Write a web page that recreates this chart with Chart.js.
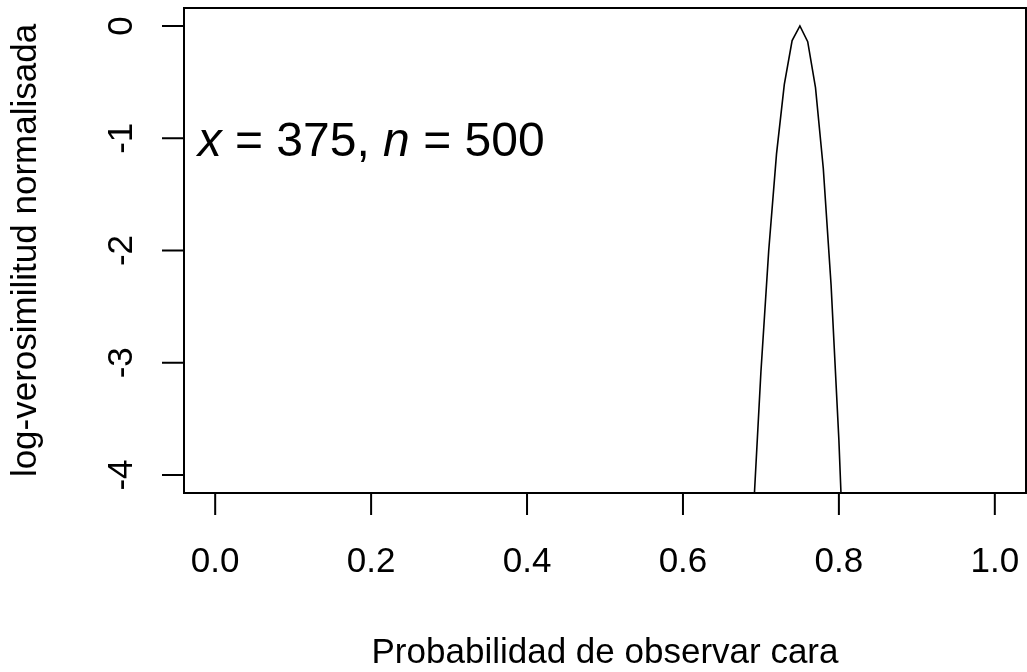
<!DOCTYPE html>
<html>
<head>
<meta charset="utf-8">
<script src="https://cdn.jsdelivr.net/npm/chart.js@4/dist/chart.umd.min.js"></script>
<style>
  html, body { margin: 0; padding: 0; background: #fff; }
  #wrap { width: 1027px; height: 672px; }
</style>
</head>
<body>
<div id="wrap"><canvas id="chart" width="1027" height="672"></canvas></div>
<script>
// values
const probs = [0.69, 0.70, 0.71, 0.72, 0.73, 0.74, 0.75, 0.76, 0.77, 0.78, 0.79, 0.80, 0.81]
const loglik = [-4.38, -3.08, -2.00, -1.14, -0.52, -0.13, 0, -0.14, -0.55, -1.27, -2.31, -3.69, -5.45]
const xTicks = [0, 0.2, 0.4, 0.6, 0.8, 1.0]
const xTickLabels = ["0.0", "0.2", "0.4", "0.6", "0.8", "1.0"]
const yTicks = [0, -1, -2, -3, -4]
const yTickLabels = ["0", "-1", "-2", "-3", "-4"]
const xTitle = "Probabilidad de observar cara"
const yTitle = "log-verosimilitud normalisada"
const noteAt = [0.2, -1]

const FONT = '"Liberation Sans", Arial, Helvetica, sans-serif'

const rAxes = {
  id: 'rAxes',
  afterDraw(chart) {
    const { ctx, chartArea: a, scales: { x, y } } = chart
    ctx.save()
    ctx.strokeStyle = '#000'
    ctx.fillStyle = '#000'
    ctx.lineWidth = 2
    ctx.strokeRect(a.left, a.top, a.right - a.left, a.bottom - a.top)

    // x axis
    const x0 = x.getPixelForValue(xTicks[0]), x1 = x.getPixelForValue(xTicks[xTicks.length - 1])
    ctx.beginPath()
    ctx.moveTo(x0, a.bottom); ctx.lineTo(x1, a.bottom)
    xTicks.forEach(v => {
      const px = x.getPixelForValue(v)
      ctx.moveTo(px, a.bottom); ctx.lineTo(px, a.bottom + 22)
    })
    // y axis
    const y0 = y.getPixelForValue(yTicks[0]), y1 = y.getPixelForValue(yTicks[yTicks.length - 1])
    ctx.moveTo(a.left, y0); ctx.lineTo(a.left, y1)
    yTicks.forEach(v => {
      const py = y.getPixelForValue(v)
      ctx.moveTo(a.left, py); ctx.lineTo(a.left - 22, py)
    })
    ctx.stroke()

    ctx.font = '35px ' + FONT
    ctx.textAlign = 'center'
    ctx.textBaseline = 'alphabetic'
    xTicks.forEach((v, i) => ctx.fillText(xTickLabels[i], x.getPixelForValue(v), 572))
    yTicks.forEach((v, i) => {
      ctx.save()
      ctx.translate(132, y.getPixelForValue(v))
      ctx.rotate(-Math.PI / 2)
      ctx.fillText(yTickLabels[i], 0, 0)
      ctx.restore()
    })

    // titles
    ctx.fillText(xTitle, (a.left + a.right) / 2, 663)
    ctx.save()
    ctx.translate(36, (a.top + a.bottom) / 2)
    ctx.rotate(-Math.PI / 2)
    ctx.fillText(yTitle, 0, 0)
    ctx.restore()

    // annotation: italic x and n
    const parts = [['x', true], [' = 375, ', false], ['n', true], [' = 500', false]]
    const fs = 48
    const widths = parts.map(([t, it]) => {
      ctx.font = (it ? 'italic ' : '') + fs + 'px ' + FONT
      return ctx.measureText(t).width
    })
    const total = widths.reduce((s, w) => s + w, 0)
    let cx = x.getPixelForValue(noteAt[0]) - total / 2
    const cy = y.getPixelForValue(noteAt[1]) + fs * 0.36
    ctx.textAlign = 'left'
    parts.forEach(([t, it], i) => {
      ctx.font = (it ? 'italic ' : '') + fs + 'px ' + FONT
      ctx.fillText(t, cx, cy)
      cx += widths[i]
    })
    ctx.restore()
  }
}

new Chart(document.getElementById('chart'), {
  type: 'line',
  data: {
    datasets: [{
      data: probs.map((p, i) => ({ x: p, y: loglik[i] })),
      borderColor: '#000',
      borderWidth: 1.6,
      pointRadius: 0,
      tension: 0,
      fill: false
    }]
  },
  options: {
    responsive: false,
    animation: false,
    layout: { padding: { left: 184, top: 8, right: 1, bottom: 179 } },
    plugins: { legend: { display: false }, tooltip: { enabled: false } },
    scales: {
      x: { type: 'linear', min: -0.04, max: 1.04, display: false },
      y: { type: 'linear', min: -4.16, max: 0.16, display: false }
    }
  },
  plugins: [rAxes]
})
</script>
</body>
</html>
